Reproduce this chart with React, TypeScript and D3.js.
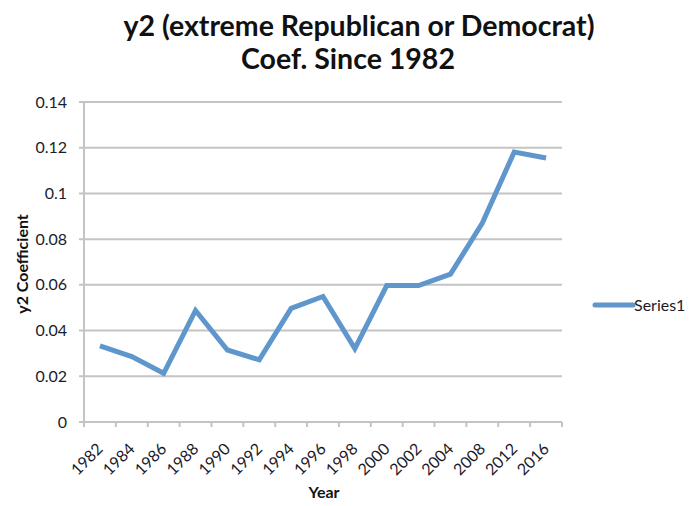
import React from "react";
import * as d3 from "d3";

const years = ["1982", "1984", "1986", "1988", "1990", "1992", "1994", "1996", "1998", "2000", "2002", "2004", "2008", "2012", "2016"];
const coefficients = [0.0333, 0.0286, 0.0213, 0.0488, 0.0315, 0.0272, 0.0497, 0.0549, 0.0321, 0.0597, 0.0597, 0.0647, 0.087, 0.1181, 0.1155];
const yTicks = [0, 0.02, 0.04, 0.06, 0.08, 0.1, 0.12, 0.14];
const titleLines = ["y2 (extreme Republican or Democrat)", "Coef. Since 1982"];
const seriesName = "Series1";

const W = 689;
const H = 506;
const plot = { left: 84, right: 562, top: 102, bottom: 422 };
const FONT = "Lato, 'Open Sans', sans-serif";
const LINE_COLOR = "#5f96cc";
const GRID_COLOR = "#c4c4c4";
const TEXT_COLOR = "#1b1b2a";

export default function App() {
  const x = d3.scaleBand<string>().domain(years).range([plot.left, plot.right]);
  const y = d3.scaleLinear().domain([0, 0.14]).range([plot.bottom, plot.top]);
  const line = d3
    .line<number>()
    .x((_, i) => (x(years[i]) as number) + x.bandwidth() / 2)
    .y((d) => y(d));

  const tickEdges = [...years.map((yr) => x(yr) as number), plot.right];

  return (
    <svg width={W} height={H} style={{ position: "absolute", left: 0, top: 0, background: "#fff" }}>
      <text x={359} y={35.5} fontFamily={FONT} fontWeight={700} fontSize={28.5} fill="#111" textAnchor="middle">
        {titleLines[0]}
      </text>
      <text x={348} y={68.5} fontFamily={FONT} fontWeight={700} fontSize={28.5} fill="#111" textAnchor="middle">
        {titleLines[1]}
      </text>

      {yTicks.map((t) => (
        <g key={t}>
          <line x1={plot.left - 5} x2={plot.right} y1={y(t)} y2={y(t)} stroke={GRID_COLOR} strokeWidth={2} />
          <text x={67} y={y(t) + 5.5} textAnchor="end" fontFamily={FONT} fontSize={16} fill={TEXT_COLOR}>
            {d3.format("~g")(t)}
          </text>
        </g>
      ))}

      <line x1={plot.left} x2={plot.left} y1={plot.top} y2={plot.bottom} stroke={GRID_COLOR} strokeWidth={2} />
      {tickEdges.map((xe, i) => (
        <line key={i} x1={xe} x2={xe} y1={plot.bottom} y2={plot.bottom + 5} stroke={GRID_COLOR} strokeWidth={2} />
      ))}

      {years.map((yr) => {
        const cx = (x(yr) as number) + x.bandwidth() / 2 + 4;
        const cy = plot.bottom + 28;
        return (
          <text
            key={yr}
            x={cx}
            y={cy}
            transform={`rotate(-45 ${cx} ${cy})`}
            textAnchor="end"
            fontFamily={FONT}
            fontSize={16}
            fill={TEXT_COLOR}
          >
            {yr}
          </text>
        );
      })}

      <path d={line(coefficients) ?? ""} fill="none" stroke={LINE_COLOR} strokeWidth={5} strokeLinejoin="miter" strokeLinecap="butt" />

      <text x={324} y={498} textAnchor="middle" fontFamily={FONT} fontWeight={700} fontSize={16} fill="#111">
        Year
      </text>
      <text
        x={28}
        y={264}
        transform="rotate(-90 28 264)"
        textAnchor="middle"
        fontFamily={FONT}
        fontWeight={700}
        fontSize={16}
        fill="#111"
      >
        y2 Coefficient
      </text>

      <line x1={595} x2={633} y1={305} y2={305} stroke={LINE_COLOR} strokeWidth={5} strokeLinecap="round" />
      <text x={634} y={311} fontFamily={FONT} fontSize={16} fill={TEXT_COLOR}>
        {seriesName}
      </text>
    </svg>
  );
}
